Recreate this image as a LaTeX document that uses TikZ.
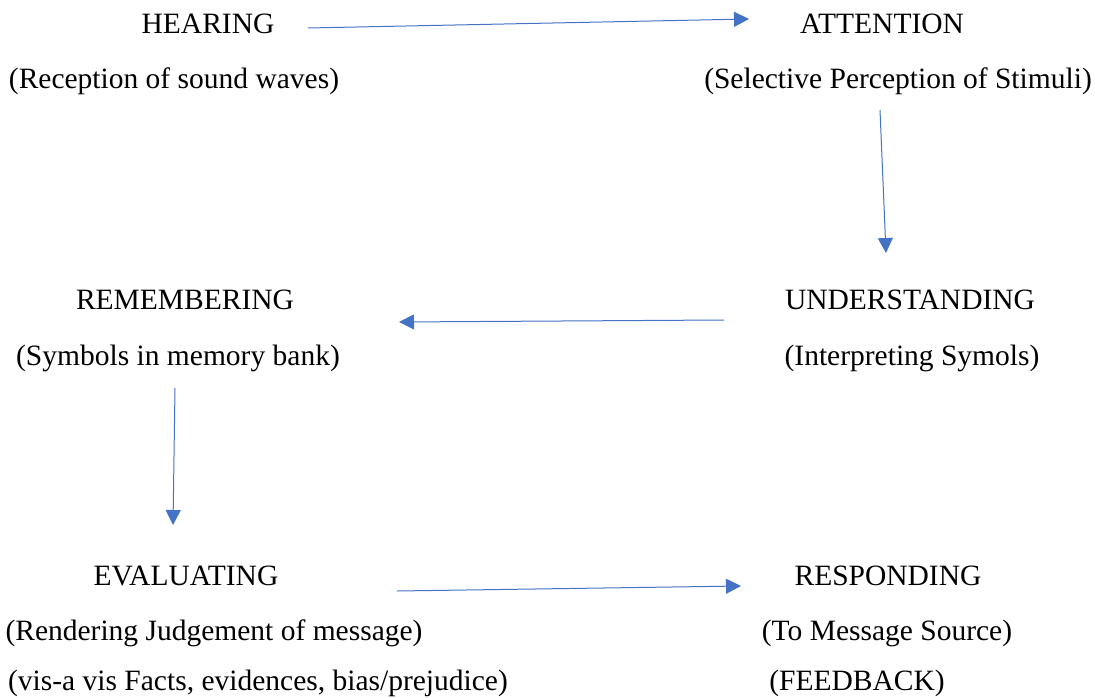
\documentclass[tikz,border=0pt]{standalone}
\usepackage{fontspec}
\setmainfont{Liberation Serif}
\usetikzlibrary{arrows.meta}
\definecolor{wordblue}{RGB}{68,114,196}
\tikzset{
  flow/.style={wordblue,line width=1pt,-{Triangle[length=15pt,width=15pt]}},
  txt/.style={font=\fontsize{29.5}{34}\selectfont,inner sep=0pt,anchor=base}
}
\begin{document}
\begin{tikzpicture}[x=1pt,y=-1pt]
\useasboundingbox (0,0) rectangle (1095,698);
% stages
\node[txt] (hear) at (208,34) {HEARING};
\node[txt] (hearsub) at (174,89) {(Reception of sound waves)};
\node[txt] (att) at (882,34) {ATTENTION};
\node[txt] (attsub) at (898,89) {(Selective Perception of Stimuli)};
\node[txt] (und) at (910,309) {UNDERSTANDING};
\node[txt] (undsub) at (912,365) {(Interpreting Symols)};
\node[txt] (rem) at (185,309) {REMEMBERING};
\node[txt] (remsub) at (178,365) {(Symbols in memory bank)};
\node[txt] (eval) at (186,585) {EVALUATING};
\node[txt] (evalsub) at (214,640) {(Rendering Judgement of message)};
\node[txt] (evalsubb) at (258,690) {(vis-a vis Facts, evidences, bias/prejudice)};
\node[txt] (resp) at (888,585) {RESPONDING};
\node[txt] (respsub) at (887,640) {(To Message Source)};
\node[txt] (respsubb) at (857,690) {(FEEDBACK)};
% arrow ends
\coordinate (a1) at (308,28);
\coordinate (a2) at (749,19);
\coordinate (b1) at (880,110);
\coordinate (b2) at (886,253);
\coordinate (c1) at (724,320);
\coordinate (c2) at (399,322);
\coordinate (d1) at (175,388);
\coordinate (d2) at (173,525);
\coordinate (e1) at (397,591);
\coordinate (e2) at (741,586);
\draw[flow] (a1) -- (a2);
\draw[flow] (b1) -- (b2);
\draw[flow] (c1) -- (c2);
\draw[flow] (d1) -- (d2);
\draw[flow] (e1) -- (e2);
\end{tikzpicture}
\end{document}
